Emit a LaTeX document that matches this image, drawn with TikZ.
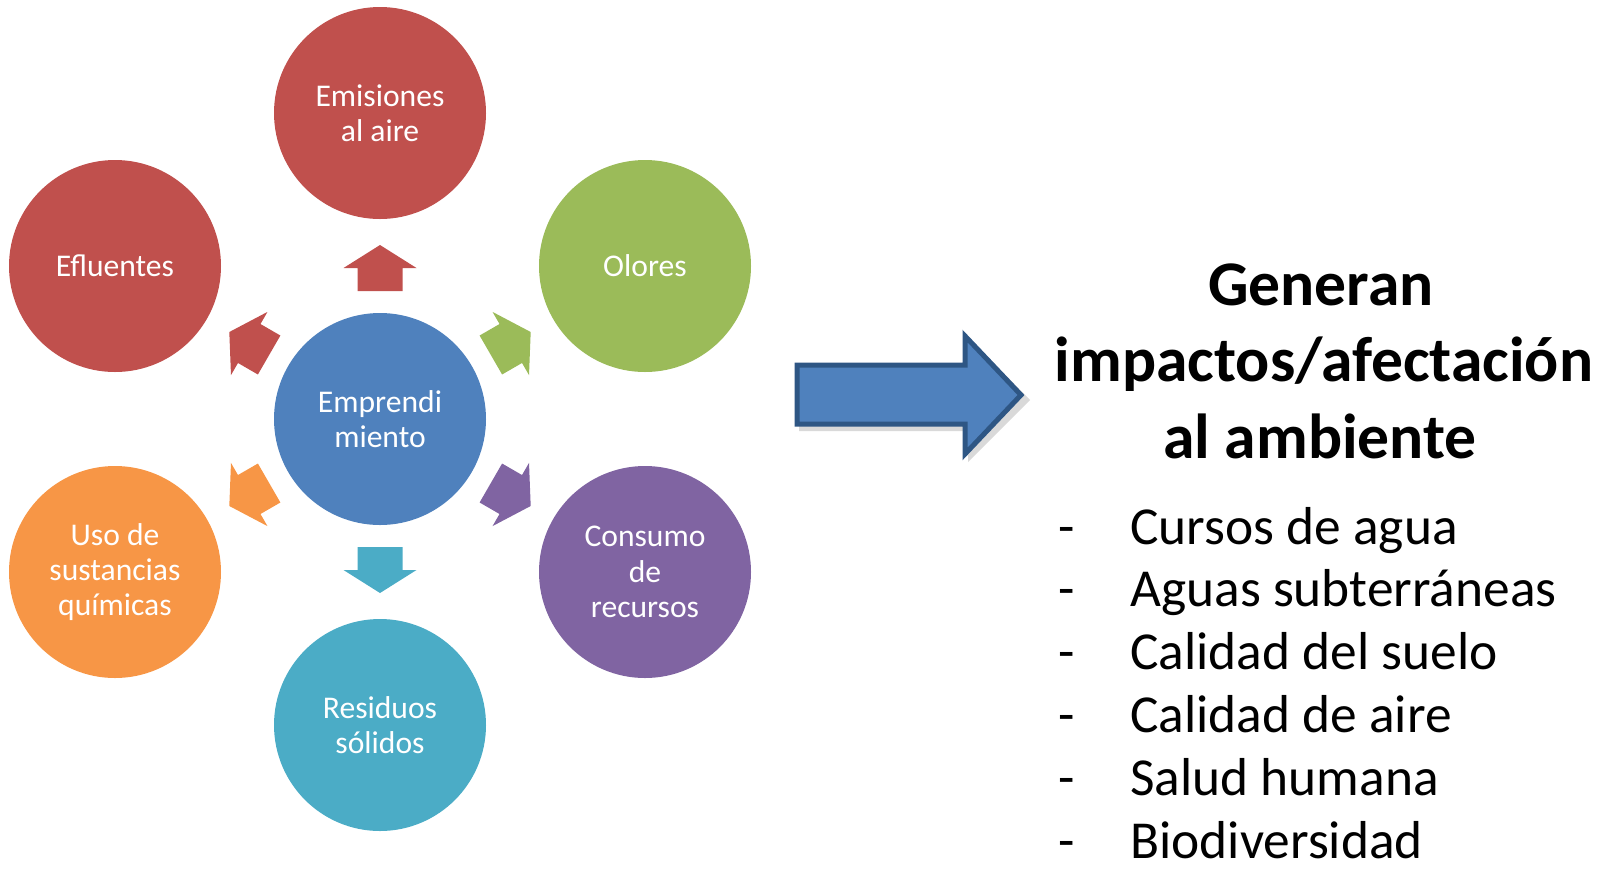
\documentclass[tikz,border=0pt]{standalone}
\usepackage{fontspec}
\setmainfont{Carlito}
\usepackage{tikz}

\definecolor{rojo}{HTML}{C0504D}
\definecolor{verde}{HTML}{9BBB59}
\definecolor{azul}{HTML}{4F81BD}
\definecolor{morado}{HTML}{8064A2}
\definecolor{celeste}{HTML}{4BACC6}
\definecolor{naranja}{HTML}{F79646}
\definecolor{azuloscuro}{HTML}{2E5684}

\tikzset{
  burbuja/.style={circle, minimum size=106pt, inner sep=0pt, text=white,
    align=center, font=\fontsize{15.8}{17.6}\selectfont},
  titulo/.style={anchor=base, inner sep=0pt, font=\bfseries\fontsize{31.8}{38}\selectfont},
  item/.style={anchor=base west, inner sep=0pt, text depth=0pt, font=\fontsize{26.7}{31.8}\selectfont}
}

\begin{document}
\begin{tikzpicture}[x=0.5pt, y=-0.5pt]
    \useasboundingbox (0,0) rectangle (1606,869);
    % ring of circles
    \node[burbuja, fill=azul] (cen) at (380,419) {Emprendi\\miento};
    \node[burbuja, fill=rojo] (emi) at (380,113) {Emisiones\\al aire};
    \node[burbuja, fill=verde] (olo) at (645,266) {Olores};
    \node[burbuja, fill=morado] (con) at (645,572) {Consumo\\de\\recursos};
    \node[burbuja, fill=celeste] (res) at (380,725) {Residuos\\sólidos};
    \node[burbuja, fill=naranja] (uso) at (115,572) {Uso de\\sustancias\\químicas};
    \node[burbuja, fill=rojo] (efl) at (115,266) {Efluentes};
    \foreach \ang/\col in {90/rojo,30/verde,-30/morado,-90/celeste,-150/naranja,150/rojo}
      \fill[\col, shift={(cen.center)}, rotate=\ang]
        (128,-22.5) -- (151,-22.5) -- (151,-36.5) -- (174,0)
        -- (151,36.5) -- (151,22.5) -- (128,22.5) -- cycle;
    % big arrow
    \fill[black, opacity=0.15]
      (799,368) -- (968,368) -- (968,337) -- (1030,400) -- (968,462) -- (968,431) -- (799,431) -- cycle;
    \draw[fill=azul, draw=azuloscuro, line width=2.5pt, line join=miter]
      (797,365) -- (965,365) -- (965,336) -- (1021,395) -- (965,454) -- (965,424) -- (797,424) -- cycle;
    % text on the right
    \node[titulo] (t1) at (1321,305) {Generan};
    \node[titulo] (t2) at (1324,381.5) {impactos/afectación};
    \node[titulo] (t3) at (1320,458) {al ambiente};
    \foreach \txt [count=\i] in {Cursos de agua, Aguas subterráneas, Calidad del suelo,
        Calidad de aire, Salud humana, Biodiversidad} {
      \node[item] (g\i) at (1058,{544+62.8*(\i-1)}) {-};
      \node[item] (it\i) at (1130,{544+62.8*(\i-1)}) {\txt};
    }
\end{tikzpicture}
\end{document}
